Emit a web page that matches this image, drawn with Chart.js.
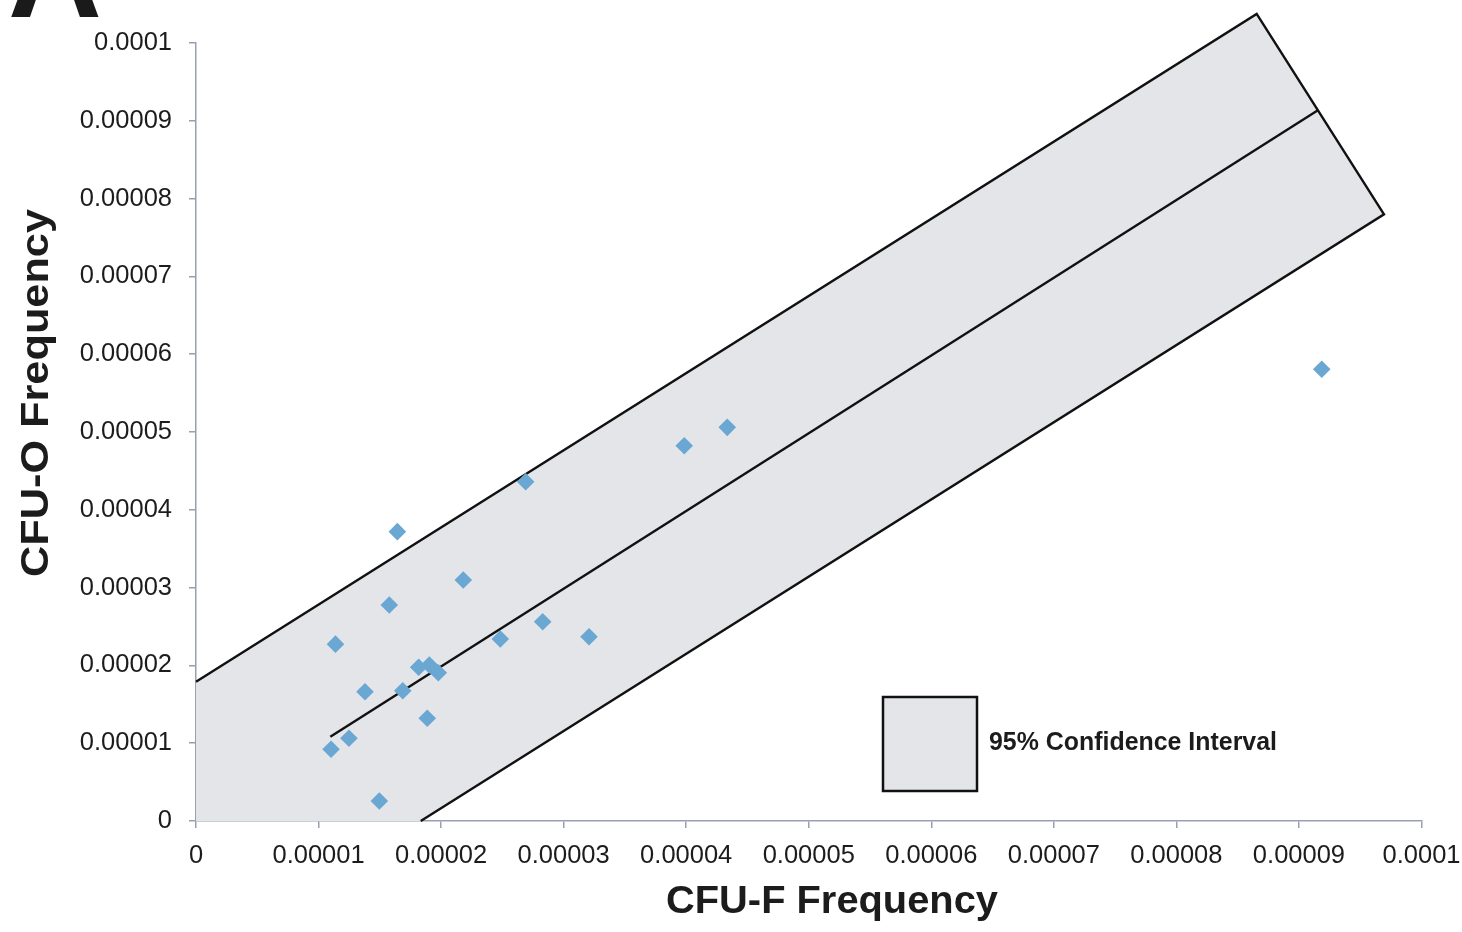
<!DOCTYPE html>
<html><head><meta charset="utf-8">
<script src="https://cdn.jsdelivr.net/npm/chart.js@4.4.1/dist/chart.umd.min.js"></script>
<style>html,body{margin:0;padding:0;background:#fff;overflow:hidden;} #wrap{position:relative;width:1462px;height:932px;}</style>
</head><body><div id="wrap"><canvas id="c"></canvas></div>
<script>
// ---- data ----
const cfuF = [1.102e-5, 1.138e-5, 1.248e-5, 1.379e-5, 1.496e-5, 1.577e-5, 1.643e-5, 1.687e-5, 1.817e-5, 1.887e-5,
              1.904e-5, 1.977e-5, 2.181e-5, 2.483e-5, 2.690e-5, 2.829e-5, 3.207e-5, 3.984e-5, 4.335e-5, 9.186e-5];
const cfuO = [0.922e-5, 2.273e-5, 1.063e-5, 1.662e-5, 0.257e-5, 2.776e-5, 3.719e-5, 1.675e-5, 1.976e-5, 1.320e-5,
              2.005e-5, 1.906e-5, 3.098e-5, 2.339e-5, 4.361e-5, 2.562e-5, 2.369e-5, 4.824e-5, 5.060e-5, 5.806e-5];
const fitX = [1.096e-5, 9.158e-5];
const fitY = [1.084e-5, 9.139e-5];
const bandX = [0, 0, 8.655e-5, 9.694e-5, 1.834e-5];
const bandY = [0, 1.790e-5, 10.373e-5, 7.798e-5, 0];
const xTickValues = [0, 0.00001, 0.00002, 0.00003, 0.00004, 0.00005, 0.00006, 0.00007, 0.00008, 0.00009, 0.0001];
const xTickLabels = ['0', '0.00001', '0.00002', '0.00003', '0.00004', '0.00005', '0.00006', '0.00007', '0.00008', '0.00009', '0.0001'];
const yTickValues = [0, 0.00001, 0.00002, 0.00003, 0.00004, 0.00005, 0.00006, 0.00007, 0.00008, 0.00009, 0.0001];
const yTickLabels = ['0', '0.00001', '0.00002', '0.00003', '0.00004', '0.00005', '0.00006', '0.00007', '0.00008', '0.00009', '0.0001'];
const panelLabel = 'A';
const xTitle = 'CFU-F Frequency';
const yTitle = 'CFU-O Frequency';
const legendLabel = '95% Confidence Interval';

// ---- styles ----
const FONT = '"Liberation Sans", Arial, Helvetica, sans-serif';
const BAND_FILL = '#e4e5e9';
const LINE = '#111111';
const AXIS = '#9a9fb0';
const TEXT = '#1c1c1c';
const POINT = '#6ba7d3';

const zip = (xs, ys) => xs.map((x, i) => ({x, y: ys[i]}));

function fitText(ctx, text, x, y, targetW, rot) {
  const w = ctx.measureText(text).width;
  ctx.save();
  ctx.translate(x, y);
  if (rot) ctx.rotate(rot);
  ctx.scale(targetW / w, 1);
  ctx.fillText(text, 0, 0);
  ctx.restore();
}

const bandFillPlugin = {
  id: 'bandFill',
  beforeDatasetsDraw(chart) {
    const meta = chart.getDatasetMeta(2);
    const pts = meta.data;
    if (!pts || !pts.length) return;
    const ctx = chart.ctx;
    ctx.save();
    ctx.beginPath();
    pts.forEach((p, i) => { if (i === 0) ctx.moveTo(p.x, p.y); else ctx.lineTo(p.x, p.y); });
    ctx.closePath();
    ctx.fillStyle = BAND_FILL;
    ctx.fill();
    ctx.restore();
  }
};

const decorPlugin = {
  id: 'decor',
  afterDraw(chart) {
    const ctx = chart.ctx;
    ctx.save();
    ctx.fillStyle = '#1a1a1a';
    // panel label
    ctx.font = 'bold 130px ' + FONT;
    ctx.textAlign = 'left';
    ctx.textBaseline = 'alphabetic';
    ctx.fillText(panelLabel, 8, 17);
    // axis titles
    ctx.fillStyle = TEXT;
    ctx.font = 'bold 38px ' + FONT;
    ctx.textAlign = 'center';
    fitText(ctx, xTitle, 832, 913, 332, 0);
    ctx.font = 'bold 39px ' + FONT;
    fitText(ctx, yTitle, 48, 393, 368, -Math.PI / 2);
    // legend
    ctx.fillStyle = BAND_FILL;
    ctx.fillRect(883, 697, 94, 94);
    ctx.strokeStyle = LINE;
    ctx.lineWidth = 2.5;
    ctx.strokeRect(883, 697, 94, 94);
    ctx.fillStyle = TEXT;
    ctx.font = 'bold 26px ' + FONT;
    ctx.textAlign = 'left';
    fitText(ctx, legendLabel, 989, 750, 288, 0);
    ctx.restore();
  }
};

const tickFont = {family: FONT, size: 25.5};

new Chart(document.getElementById('c'), {
  type: 'scatter',
  data: {
    datasets: [
      {
        label: 'data',
        data: zip(cfuF, cfuO),
        pointStyle: 'rectRot',
        pointRadius: 8.8,
        pointHoverRadius: 8.8,
        backgroundColor: POINT,
        borderWidth: 0,
        order: 0
      },
      {
        label: 'fit',
        data: zip(fitX, fitY),
        showLine: true,
        borderColor: LINE,
        borderWidth: 2.4,
        pointRadius: 0,
        fill: false,
        order: 1
      },
      {
        label: 'band',
        data: zip(bandX, bandY),
        showLine: true,
        borderColor: LINE,
        borderWidth: 2.4,
        backgroundColor: BAND_FILL,
        pointRadius: 0,
        fill: false,
        clip: false,
        segment: {
          borderColor: c => c.p0DataIndex === 0 ? 'rgba(0,0,0,0)' : LINE
        },
        order: 2
      }
    ]
  },
  options: {
    responsive: true,
    maintainAspectRatio: false,
    animation: false,
    events: [],
    layout: {padding: {left: 0, right: 40.5, top: 43, bottom: 0}},
    plugins: {legend: {display: false}, tooltip: {enabled: false}, title: {display: false}},
    scales: {
      x: {
        type: 'linear',
        min: 0, max: 0.0001,
        z: 1,
        afterFit: s => { s.height = 111; s.paddingLeft = 0; s.paddingRight = 0; },
        afterBuildTicks: s => { s.ticks = xTickValues.map(v => ({value: v})); },
        ticks: {
          font: tickFont, color: TEXT, padding: 13, maxRotation: 0, autoSkip: false,
          callback: (v, i) => xTickLabels[i]
        },
        grid: {drawOnChartArea: false, drawTicks: true, tickLength: 7, color: AXIS, lineWidth: 1.5},
        border: {display: true, color: AXIS, width: 1.5}
      },
      y: {
        type: 'linear',
        min: 0, max: 0.0001,
        z: 1,
        afterFit: s => { s.width = 196; s.paddingTop = 0; s.paddingBottom = 0; },
        afterBuildTicks: s => { s.ticks = yTickValues.map(v => ({value: v})); },
        ticks: {
          font: tickFont, color: TEXT, padding: 17, autoSkip: false,
          callback: (v, i) => yTickLabels[i]
        },
        grid: {drawOnChartArea: false, drawTicks: true, tickLength: 7, color: AXIS, lineWidth: 1.5},
        border: {display: true, color: AXIS, width: 1.5}
      }
    }
  },
  plugins: [bandFillPlugin, decorPlugin]
});
</script>
</body></html>
